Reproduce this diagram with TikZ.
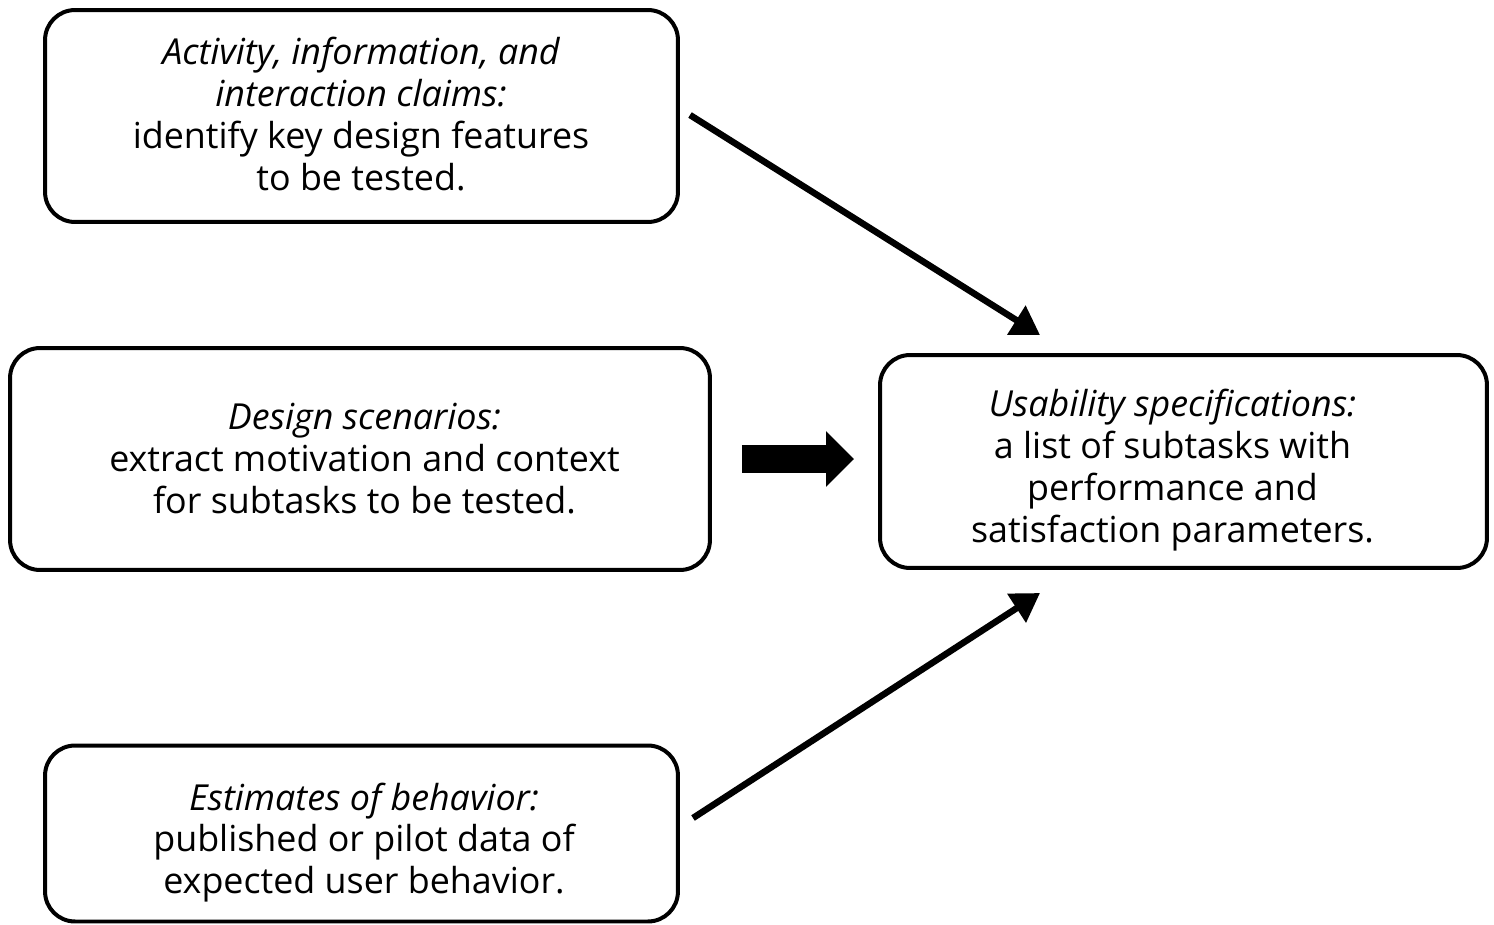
\documentclass[tikz,border=0pt]{standalone}
\usepackage{fontspec}
\setmainfont{Open Sans}
\usetikzlibrary{arrows.meta}
\begin{document}
\begin{tikzpicture}[x=0.02cm,y=-0.02cm,
  box/.style={draw, line width=0.08cm, rounded corners=0.6cm, inner sep=0pt},
  txt/.style={align=center, font=\fontsize{20.4}{23.8}\selectfont, inner sep=0pt},
  conn/.style={line width=0.13cm, -{Triangle[length=0.56cm,width=0.66cm]}},
  fat/.style={line width=0.56cm, -{Triangle[length=0.56cm,width=1.08cm]}}]
\useasboundingbox (0,0) rectangle (1494,924);
\node[box, minimum width=12.66cm, minimum height=4.24cm] (b1) at (361.5,116) {};
\node[box, minimum width=14cm, minimum height=4.44cm] (b2) at (360,459) {};
\node[box, minimum width=12.66cm, minimum height=3.52cm] (b3) at (361.5,833.5) {};
\node[box, minimum width=12.14cm, minimum height=4.26cm] (b4) at (1183.5,461.5) {};
\node[txt] (t1) at (361,114)
  {\itshape Activity, information, and\\ \itshape interaction claims:\\ identify key design features\\ to be tested.};
\node[txt] (t2) at (364.5,458.5)
  {\itshape Design scenarios:\\ extract motivation and context\\ for subtasks to be tested.};
\node[txt] (t3) at (364,842.5)
  {\itshape Estimates of behavior:\\ published or pilot data of\\ expected user behavior.};
\node[txt] (t4) at (1172.5,470)
  {\itshape Usability specifications:\\ a list of subtasks with\\ performance and\\ satisfaction parameters.};
\coordinate (a1s) at (690,115);
\coordinate (a1e) at (1040,335);
\coordinate (a3s) at (693,818);
\coordinate (a3e) at (1040,593);
\draw[conn] (a1s) -- (a1e);
\draw[conn] (a3s) -- (a3e);
\draw[fat, shorten <=0.6cm, shorten >=0.48cm] (b2.east) -- (b4.west |- b2.east);
\end{tikzpicture}
\end{document}
